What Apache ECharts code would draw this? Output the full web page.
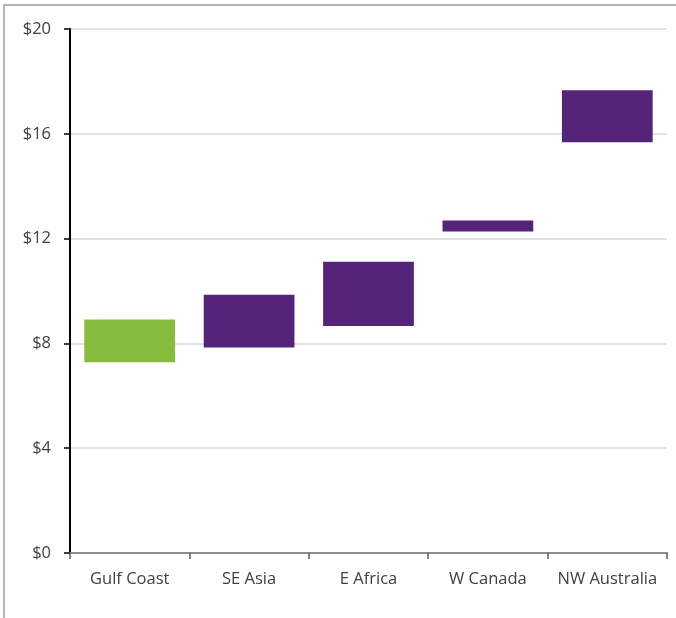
<!DOCTYPE html>
<html>
  <head>
    <meta charset="utf-8" />
    <title>Cost ranges by region</title>
    <script src="https://cdn.jsdelivr.net/npm/echarts@6/dist/echarts.min.js"></script>
    <style>
      body {
        margin: 0;
        background: #fff;
        overflow: hidden;
      }
      #frame {
        position: absolute;
        left: 3px;
        top: 4px;
        width: 720px;
        height: 700px;
        border-top: 2px solid #b4b4b4;
        border-left: 2px solid #b4b4b4;
      }
      #main {
        position: absolute;
        left: 0;
        top: 0;
        width: 676px;
        height: 618px;
      }
    </style>
  </head>
  <body>
    <div id="frame"></div>
    <div id="main"></div>
    <script type="text/javascript">
      // region ranges, $ (low / high end of each bar)
      var regions = ["Gulf Coast", "SE Asia", "E Africa", "W Canada", "NW Australia"];
      var lowValues = [7.28, 7.84, 8.66, 12.27, 15.68];
      var highValues = [8.91, 9.86, 11.12, 12.69, 17.66];
      var barColors = ["#86bc3d", "#56237a", "#56237a", "#56237a", "#56237a"];
      var yTicks = [0, 4, 8, 12, 16, 20];

      var myChart = echarts.init(document.getElementById("main"));

      var spans = highValues.map(function (h, i) {
        return {
          value: +(h - lowValues[i]).toFixed(2),
          itemStyle: { color: barColors[i] },
        };
      });

      var labelFont = {
        fontFamily: "Open Sans, Liberation Sans, sans-serif",
        fontSize: 16.5,
        color: "#404040",
      };

      var option = {
        animation: false,
        grid: { left: 70, right: 9, top: 29, bottom: 65 },
        xAxis: {
          type: "category",
          data: regions,
          axisLine: { lineStyle: { color: "#8c8c8c", width: 2 } },
          axisTick: { show: true, interval: 0, length: 6, lineStyle: { color: "#595959", width: 1.5 } },
          axisLabel: Object.assign({ margin: 18, interval: 0, hideOverlap: false }, labelFont),
        },
        yAxis: {
          type: "value",
          min: yTicks[0],
          max: yTicks[yTicks.length - 1],
          interval: 4,
          axisLine: { show: true, lineStyle: { color: "#000", width: 2 } },
          axisTick: { show: true, length: 6, lineStyle: { color: "#000", width: 1.5 } },
          axisLabel: Object.assign(
            {
              margin: 19,
              formatter: function (v) {
                return "$" + v;
              },
            },
            labelFont
          ),
          splitLine: { lineStyle: { color: "#d9d9d9", width: 1.5 } },
        },
        series: [
          {
            type: "bar",
            stack: "range",
            data: lowValues,
            itemStyle: { color: "transparent" },
            barWidth: "76%",
            silent: true,
          },
          {
            type: "bar",
            stack: "range",
            data: spans,
            barWidth: "76%",
          },
        ],
      };

      myChart.setOption(option);
    </script>
  </body>
</html>
